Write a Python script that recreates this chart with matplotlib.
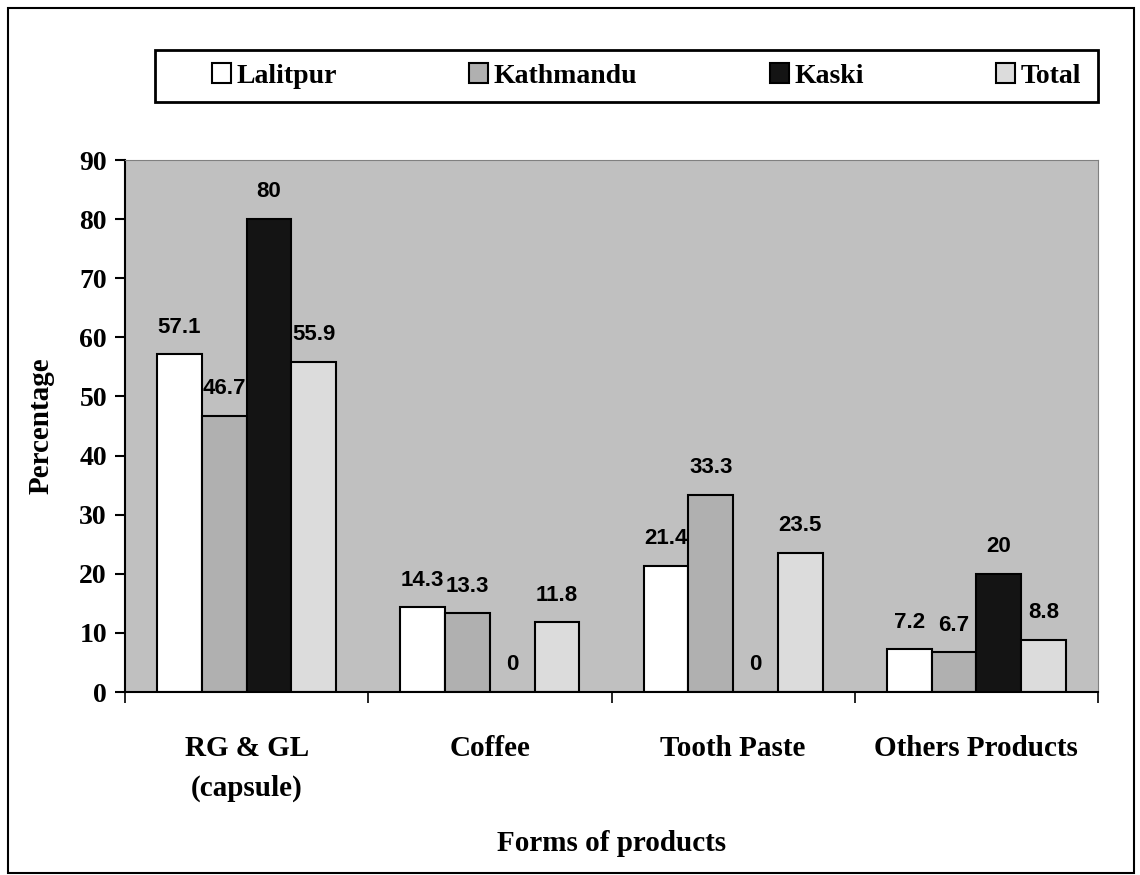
import matplotlib.pyplot as plt
import matplotlib.patches as patches
import numpy as np

categories = ['RG & GL\n(capsule)', 'Coffee', 'Tooth Paste', 'Others Products']
series = ['Lalitpur', 'Kathmandu', 'Kaski', 'Total']
lalitpur = [57.1, 14.3, 21.4, 7.2]
kathmandu = [46.7, 13.3, 33.3, 6.7]
kaski = [80, 0, 0, 20]
total = [55.9, 11.8, 23.5, 8.8]
labels = {
    'Lalitpur': ['57.1', '14.3', '21.4', '7.2'],
    'Kathmandu': ['46.7', '13.3', '33.3', '6.7'],
    'Kaski': ['80', '0', '0', '20'],
    'Total': ['55.9', '11.8', '23.5', '8.8'],
}
colors = ['#FFFFFF', '#B0B0B0', '#141414', '#DCDCDC']

serif = ['Liberation Serif', 'DejaVu Serif']
sans = ['Liberation Sans', 'DejaVu Sans']

fig = plt.figure(figsize=(11.4, 8.75), dpi=100)
ax = fig.add_axes([125 / 1140, 1 - 692 / 875, 973 / 1140, 532 / 875])
ax.set_facecolor('#C0C0C0')

x = np.arange(len(categories))
w = 0.184
data = [lalitpur, kathmandu, kaski, total]
for i, (name, vals) in enumerate(zip(series, data)):
    pos = x + (i - 1.5) * w
    ax.bar(pos, vals, w, color=colors[i], edgecolor='black', linewidth=1.5,
           label=name, zorder=2)
    for p, v, t in zip(pos, vals, labels[name]):
        ax.annotate(t, (p, v), xytext=(0, 12), textcoords='offset points',
                    ha='center', va='bottom', fontsize=16, fontweight='bold',
                    family=sans)

ax.set_xlim(-0.5, 3.5)
ax.set_ylim(0, 90)
ax.set_yticks(range(0, 91, 10))
ax.tick_params(axis='y', direction='out', length=7, width=1.5, pad=6)
# ticks at the category boundaries, labels in the middle
ax.set_xticks(np.arange(-0.5, 4, 1))
ax.set_xticklabels([])
ax.tick_params(axis='x', direction='out', length=8, width=1.2)
ax.set_xticks(x, minor=True)
ax.set_xticklabels(categories, minor=True, fontsize=21, fontweight='bold',
                   family=serif, linespacing=1.6)
ax.tick_params(axis='x', which='minor', length=0, pad=31)
for lab in ax.get_yticklabels():
    lab.set_fontsize(20)
    lab.set_fontweight('bold')
    lab.set_family(serif)

ax.spines['left'].set_linewidth(1.5)
ax.spines['bottom'].set_linewidth(1.5)
ax.spines['top'].set_color('#808080')
ax.spines['right'].set_color('#808080')

ax.set_ylabel('Percentage', fontsize=21, fontweight='bold', family=serif, labelpad=18)
ax.set_xlabel('Forms of products', fontsize=21, fontweight='bold', family=serif, labelpad=20)

# legend box spans the plot width
box = (155 / 1140, 1 - 102 / 875, 943 / 1140, 52 / 875)
fig.patches.append(patches.Rectangle(box[:2], box[2], box[3],
                                     transform=fig.transFigure, facecolor='white',
                                     edgecolor='black', linewidth=2, zorder=0))
handles, names = ax.get_legend_handles_labels()
leg = fig.legend(handles, names, ncol=4,
                 bbox_to_anchor=(box[0] + 20 / 1140, box[1], box[2], box[3]),
                 loc='center', frameon=False,
                 handlelength=0.7, handleheight=0.7, handletextpad=0.2,
                 columnspacing=4.75, borderaxespad=0,
                 prop={'family': serif, 'weight': 'bold', 'size': 20})

fig.patches.append(patches.Rectangle((8 / 1140, 0.002), 1126 / 1140, 1 - 10 / 875,
                                     transform=fig.transFigure, fill=False,
                                     edgecolor='black', linewidth=1.5))

fig.savefig('out.png', dpi=100)
